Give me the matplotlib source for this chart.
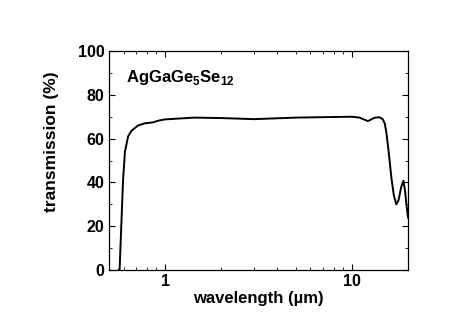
import numpy as np
import matplotlib.pyplot as plt
from matplotlib.ticker import MultipleLocator, LogLocator, NullFormatter, FixedLocator

plt.rcParams['font.family'] = ['Liberation Sans', 'DejaVu Sans']
plt.rcParams['font.weight'] = 'bold'
plt.rcParams['mathtext.fontset'] = 'custom'
plt.rcParams['mathtext.bf'] = 'Liberation Sans:bold'
plt.rcParams['mathtext.rm'] = 'Liberation Sans:bold'

# transmission spectrum
wavelength = [0.565, 0.571, 0.58, 0.596, 0.61, 0.634, 0.66, 0.716, 0.78, 0.86, 0.92,
              1.0, 1.2, 1.43, 2.0, 3.0, 4.0, 5.0, 7.0, 10.0, 11.0, 12.2, 13.2,
              14.0, 14.6, 15.0, 15.3, 15.8, 16.3, 16.8, 17.3, 17.8, 18.4, 18.9,
              19.3, 19.6, 20.0]
transmission = [0.0, 0.0, 15.0, 41.0, 54.0, 61.0, 63.5, 66.0, 67.0, 67.4, 68.2,
                68.8, 69.2, 69.6, 69.4, 68.9, 69.3, 69.6, 69.8, 70.0, 69.6, 68.0, 69.5,
                69.8, 69.0, 67.0, 63.0, 53.0, 42.0, 34.0, 30.0, 32.0, 38.0, 40.8,
                36.0, 30.0, 24.0]

fig = plt.figure(figsize=(4.69, 3.27), dpi=100)
ax = fig.add_axes([0.232, 0.174, 0.638, 0.670])

ax.plot(wavelength, transmission, color='black', linewidth=1.4)

ax.set_xscale('log')
ax.set_xlim(0.5, 20)
ax.set_ylim(0, 100)
ax.xaxis.set_major_locator(FixedLocator([1, 10]))
ax.xaxis.set_major_formatter(plt.FuncFormatter(lambda v, p: f"{v:g}"))
ax.xaxis.set_minor_locator(LogLocator(base=10, subs=np.arange(2, 10)))
ax.xaxis.set_minor_formatter(NullFormatter())
ax.yaxis.set_major_locator(MultipleLocator(20))
ax.yaxis.set_minor_locator(MultipleLocator(10))

ax.tick_params(which='both', direction='in', top=True, right=True, labelsize=11.5, pad=3)
ax.tick_params(which='major', length=4, width=0.8)
ax.tick_params(which='minor', length=2, width=0.6)
for s in ax.spines.values():
    s.set_linewidth(0.9)

ax.set_xlabel('wavelength (\u00b5m)', fontsize=12, fontweight='bold', labelpad=1)
ax.set_ylabel('transmission (%)', fontsize=12.5, fontweight='bold')
ax.yaxis.set_label_coords(-0.165, 0.584)

ax.text(0.615, 88, r'AgGaGe$_{\mathbf{5}}$Se$_{\mathbf{12}}$', fontsize=12, fontweight='bold',
        va='center', ha='left')

fig.savefig('out.png', dpi=100)
